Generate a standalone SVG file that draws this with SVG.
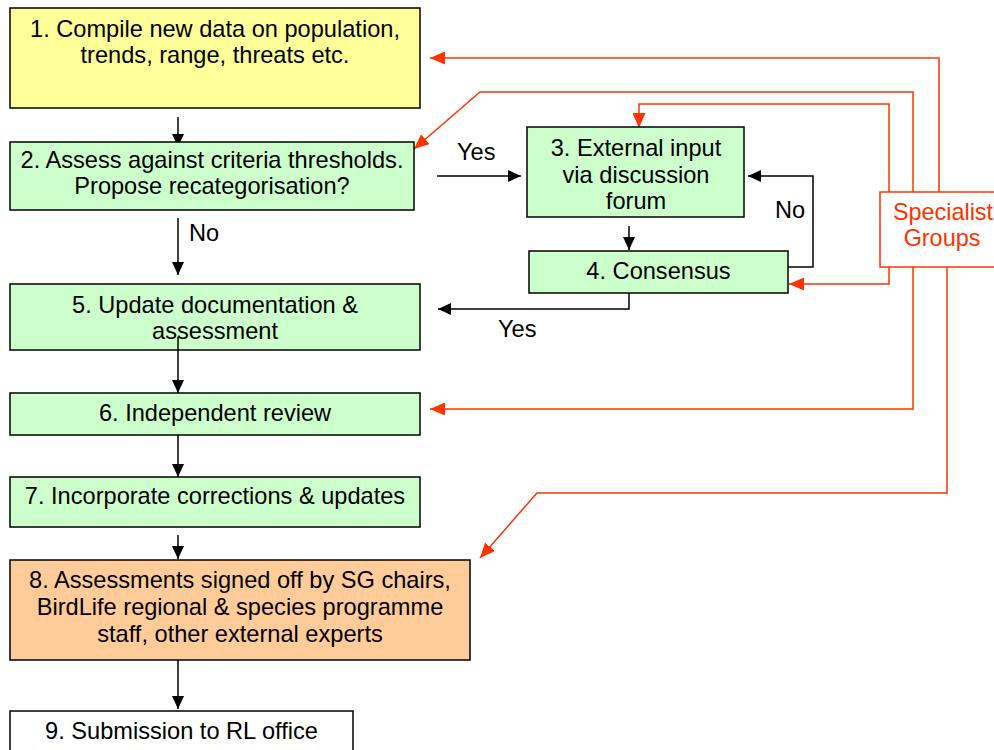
<svg xmlns="http://www.w3.org/2000/svg" width="994" height="750" viewBox="0 0 994 750">
<defs>
<marker id="ab" markerUnits="userSpaceOnUse" markerWidth="13" markerHeight="12" refX="13" refY="6" orient="auto"><path d="M0,0 L13,6 L0,12 z" fill="#000"/></marker>
<marker id="ar" markerUnits="userSpaceOnUse" markerWidth="15" markerHeight="13" refX="15" refY="6.5" orient="auto"><path d="M0,0 L15,6.5 L0,13 z" fill="#FF3300"/></marker>
<style>
.box{stroke:#000;stroke-width:1.5}
.t{font-family:"Liberation Sans",Arial,Helvetica,sans-serif;font-size:23.6px;fill:#000;text-anchor:middle}
.lb{font-family:"Liberation Sans",Arial,Helvetica,sans-serif;font-size:23.6px;fill:#000}
.k{fill:none;stroke:#000;stroke-width:1.5;marker-end:url(#ab)}
.kn{fill:none;stroke:#000;stroke-width:1.5}
.r{fill:none;stroke:#FF3300;stroke-width:1.5;marker-end:url(#ar)}
.rt{font-family:"Liberation Sans",Arial,Helvetica,sans-serif;font-size:23.4px;fill:#FF3300;text-anchor:middle}
</style>
</defs>
<rect width="994" height="750" fill="#fff"/>
<g id="connectors">
<line class="k" x1="178" y1="117" x2="178" y2="147"/>
<line class="k" x1="178" y1="218" x2="178" y2="275"/>
<line class="k" x1="178" y1="337" x2="178" y2="393"/>
<line class="k" x1="178" y1="435" x2="178" y2="477"/>
<line class="k" x1="178" y1="535" x2="178" y2="559"/>
<line class="k" x1="178" y1="660" x2="178" y2="709"/>
<line class="k" x1="437" y1="176" x2="521" y2="176"/>
<line class="k" x1="629" y1="226" x2="629" y2="250"/>
<polyline class="k" points="788,267 813,267 813,176 748,176"/>
<polyline class="k" points="629,293 629,309 438,309"/>
<polyline class="r" points="939,192 939,58 430,58"/>
<polyline class="r" points="913,192 913,92 480,92 414,149"/>
<polyline class="r" points="889,192 889,104 639,104 639,128"/>
<polyline class="r" points="889,267 889,284 789,284"/>
<polyline class="r" points="913,267 913,409 430,409"/>
<polyline class="r" points="947,267 947,493 537,493 480,558"/>
<text class="lb" x="457" y="160">Yes</text>
<text class="lb" x="775" y="218">No</text>
<text class="lb" x="189" y="241">No</text>
<text class="lb" x="498" y="337">Yes</text>
</g>
<g id="n1"><rect class="box" x="10" y="8" width="410" height="100" fill="#FFFF99"/>
<text class="t" x="215" y="37">1. Compile new data on population,</text>
<text class="t" x="215" y="63">trends, range, threats etc.</text></g>
<g id="n2"><rect class="box" x="10" y="142" width="404" height="68" fill="#CCFFCC"/>
<text class="t" x="212" y="168">2. Assess against criteria thresholds.</text>
<text class="t" x="212" y="194">Propose recategorisation?</text></g>
<g id="n3"><rect class="box" x="527" y="127" width="217" height="90" fill="#CCFFCC"/>
<text class="t" x="636" y="156">3. External input</text>
<text class="t" x="636" y="183">via discussion</text>
<text class="t" x="636" y="209">forum</text></g>
<g id="n4"><rect class="box" x="529" y="251" width="259" height="42" fill="#CCFFCC"/>
<text class="t" x="658.5" y="279">4. Consensus</text></g>
<g id="n5"><rect class="box" x="10" y="284" width="410" height="66" fill="#CCFFCC"/>
<text class="t" x="215" y="313">5. Update documentation &amp;</text>
<text class="t" x="215" y="339">assessment</text></g>
<line class="kn" x1="178" y1="337" x2="178" y2="350"/>
<g id="n6"><rect class="box" x="10" y="393" width="410" height="42" fill="#CCFFCC"/>
<text class="t" x="215" y="421">6. Independent review</text></g>
<g id="n7"><rect class="box" x="10" y="477" width="410" height="50" fill="#CCFFCC"/>
<text class="t" x="215" y="504">7. Incorporate corrections &amp; updates</text></g>
<g id="n8"><rect class="box" x="10" y="560" width="460" height="100" fill="#FFCC99"/>
<text class="t" x="240" y="588">8. Assessments signed off by SG chairs,</text>
<text class="t" x="240" y="615">BirdLife regional &amp; species programme</text>
<text class="t" x="240" y="642">staff, other external experts</text></g>
<g id="n9"><rect class="box" x="10" y="711" width="343" height="60" fill="#FFFFFF"/>
<text class="t" x="181.5" y="739">9. Submission to RL office</text></g>
<g id="sg"><rect x="880" y="192" width="130" height="75" fill="#fff" stroke="#FF3300" stroke-width="1.5"/>
<text class="rt" x="943" y="220">Specialist</text>
<text class="rt" x="942" y="246">Groups</text></g>
</svg>
